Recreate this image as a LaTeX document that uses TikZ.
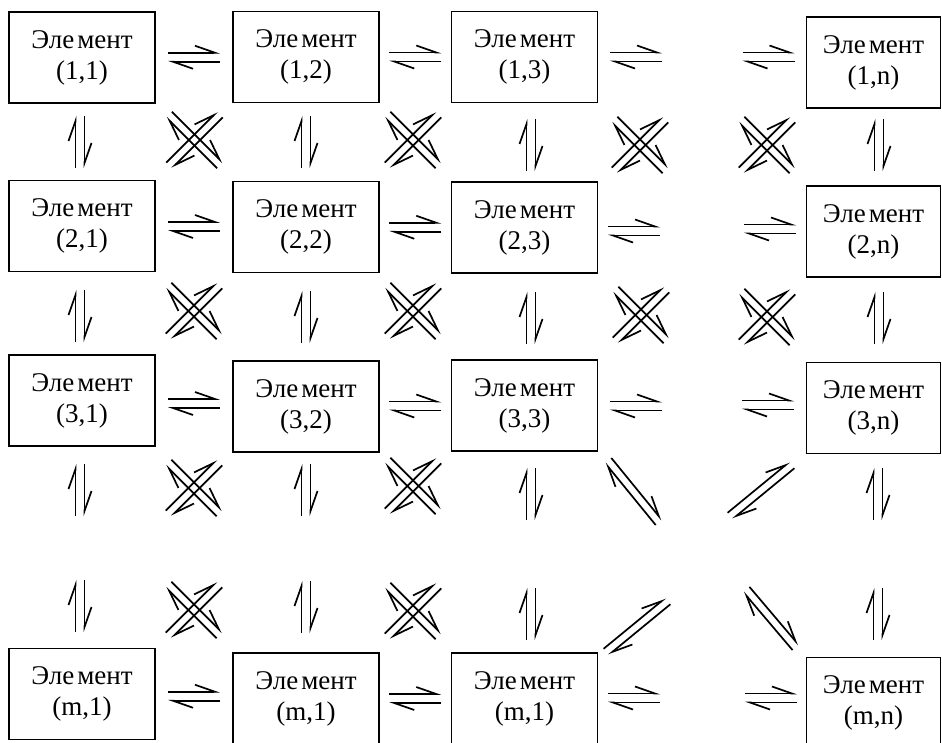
\documentclass[tikz,border=0pt]{standalone}
\usepackage{fontspec}
\setmainfont{Liberation Serif}
\usetikzlibrary{arrows.meta,calc}
\newcommand\tightsp{\spaceskip=3pt plus 1pt\relax}
\tikzset{
  el/.style={draw, line width=1.8pt, minimum width=146pt, minimum height=91pt,
    inner sep=0pt, align=center,
    font=\fontsize{27}{31}\selectfont,
    execute at begin node=\tightsp},
  elw/.style={el, minimum width=134pt},
  harp/.style={line width=1.7pt, -{Straight Barb[left,length=20pt,width=14pt]}},
  pics/hp/.style 2 args={code={
    \draw[harp] (-#1pt,#2pt) -- (#1pt,#2pt);
    \draw[harp] (#1pt,-#2pt) -- (-#1pt,-#2pt);}},
  pics/hx/.style={code={
    \pic[rotate=45] {hp={36}{4}};
    \pic[rotate=135] {hp={36}{4}};}},
}
\begin{document}
\begin{tikzpicture}[x=1pt,y=-1pt]
\useasboundingbox (0,0) rectangle (942,743);
% boxes
\node[el]  (a11) at (82,57.5)   {Эле мент\\(1,1)};
\node[el]  (a12) at (306,57)    {Эле мент\\(1,2)};
\node[el]  (a13) at (524.5,57)  {Эле мент\\(1,3)};
\node[elw] (a1n) at (873.5,62.5){Эле мент\\(1,n)};
\node[el]  (a21) at (82,226)    {Эле мент\\(2,1)};
\node[el]  (a22) at (306,227)   {Эле мент\\(2,2)};
\node[el]  (a23) at (524.5,227.5){Эле мент\\(2,3)};
\node[elw] (a2n) at (873.5,231.5){Эле мент\\(2,n)};
\node[el]  (a31) at (82,400.5)  {Эле мент\\(3,1)};
\node[el]  (a32) at (306,406.5) {Эле мент\\(3,2)};
\node[el]  (a33) at (524.5,405.5){Эле мент\\(3,3)};
\node[elw] (a3n) at (873.5,408) {Эле мент\\(3,n)};
\node[el]  (am1) at (82,694)    {Эле мент\\(m,1)};
\node[el]  (am2) at (306,698.5) {Эле мент\\(m,1)};
\node[el]  (am3) at (524.5,698.5){Эле мент\\(m,1)};
\node[elw] (amn) at (873.5,703) {Эле мент\\(m,n)};
% horizontal pairs
\pic at ($(a11.east)!.5!(a12.west)$) {hp={26}{4.5}};
\pic at ($(a12.east)!.5!(a13.west)$) {hp={26}{4.5}};
\pic at (636,57) {hp={26}{4.5}};
\pic at (768.5,57) {hp={26}{4.5}};
\pic at ($(a21.east)!.5!(a22.west)$) {hp={26}{4.5}};
\pic at ($(a22.east)!.5!(a23.west)$) {hp={26}{4.5}};
\pic at (634,231) {hp={26}{4.5}};
\pic at (770,229) {hp={26}{4.5}};
\pic at ($(a31.east)!.5!(a32.west)$) {hp={26}{4.5}};
\pic at ($(a32.east)!.5!(a33.west)$) {hp={26}{4.5}};
\pic at (636,406) {hp={26}{4.5}};
\pic at (768,405) {hp={26}{4.5}};
\pic at ($(am1.east)!.5!(am2.west)$) {hp={26}{4.5}};
\pic at ($(am2.east)!.5!(am3.west)$) {hp={26}{4.5}};
\pic at (634,698) {hp={26}{4.5}};
\pic at (771,698) {hp={26}{4.5}};
% vertical pairs
\foreach \x/\y in {80/142,306/142,531/145,879/145,
                   80/316,306/317,531/318,879/318,
                   80/490,306/490,531/494,878/494,
                   80/606,306/607,531/614,878/614}
  \pic[rotate=90] at (\x,\y) {hp={26}{4.5}};
% crosses
\foreach \x/\y in {194.5/140,413/140,640/145,767/145,
                   194/311,413/311,641/315,767/317,
                   194/488,413/486,
                   194/610,413/611}
  \pic at (\x,\y) {hx};
% single diagonals
\pic[rotate=129.2] at (633.5,491.5) {hp={40}{4}};
\pic[rotate=39.4] at (761,490.5) {hp={40}{4}};
\pic[rotate=39.4] at (637,626.5) {hp={40}{4}};
\pic[rotate=130.3] at (771,618.5) {hp={38}{4}};
\end{tikzpicture}
\end{document}
